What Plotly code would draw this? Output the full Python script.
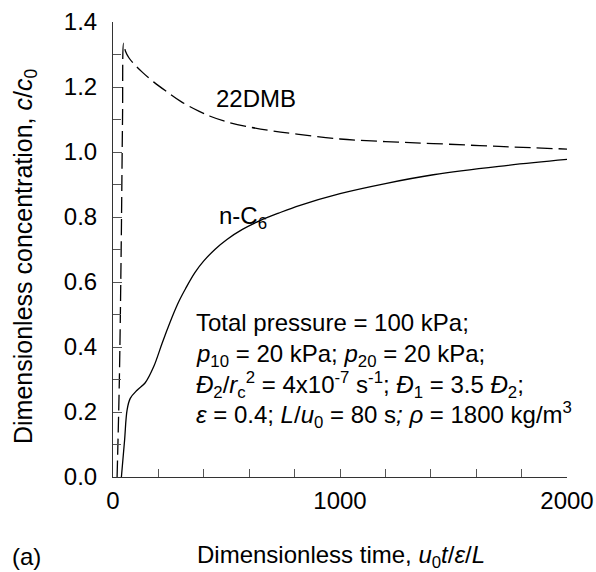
import plotly.graph_objects as go

# ---- data ----
dmb_t = [18, 28, 36, 42, 47, 55, 70, 91, 130, 180, 238, 300, 380, 428, 500, 600, 700, 810, 1000, 1200, 1411, 1700, 2000]
dmb_c = [0.0, 0.30, 0.70, 1.10, 1.335, 1.31, 1.29, 1.272, 1.245, 1.215, 1.185, 1.155, 1.125, 1.110, 1.093, 1.077, 1.065, 1.055, 1.040, 1.032, 1.026, 1.017, 1.009]

nc6_t = [37, 51, 62, 76, 106, 142, 179, 216, 238, 265, 290, 320, 360, 399, 450, 502, 570, 648, 730, 824, 1000, 1200, 1411, 1700, 2000]
nc6_c = [0.0, 0.113, 0.206, 0.242, 0.267, 0.290, 0.339, 0.411, 0.452, 0.500, 0.540, 0.580, 0.628, 0.664, 0.701, 0.731, 0.762, 0.789, 0.812, 0.836, 0.872, 0.903, 0.930, 0.956, 0.977]

x_tick_vals = [0, 1000, 2000]
x_tick_text = ["0", "1000", "2000"]
y_tick_vals = [0.0, 0.2, 0.4, 0.6, 0.8, 1.0, 1.2, 1.4]
y_tick_text = ["0.0", "0.2", "0.4", "0.6", "0.8", "1.0", "1.2", "1.4"]

param_lines = [
    "Total pressure = 100 kPa;",
    "<i>p</i><sub>10</sub> = 20 kPa; <i>p</i><sub>20</sub> = 20 kPa;",
    "<i>Đ</i><sub>2</sub>/<i>r</i><sub>c</sub><sup>2</sup> = 4x10<sup>-7</sup> s<sup>-1</sup>; <i>Đ</i><sub>1</sub> = 3.5 <i>Đ</i><sub>2</sub>;",
    "<i>ε</i> = 0.4; <i>L</i>/<i>u</i><sub>0</sub> = 80 s<i>;</i> <i>ρ</i> = 1800 kg/m<sup>3</sup>",
]
param_y = [0.474, 0.374, 0.283, 0.192]

FONT = "Liberation Sans, Arial, sans-serif"
TXT = 24

fig = go.Figure()
fig.add_trace(go.Scatter(x=dmb_t, y=dmb_c, mode="lines", line=dict(color="black", width=1.3, dash="16px,6px"),
                         line_shape="spline", showlegend=False))
fig.add_trace(go.Scatter(x=nc6_t, y=nc6_c, mode="lines", line=dict(color="black", width=1.3),
                         line_shape="spline", showlegend=False))

W, H = 596, 572
ML, MR, MT, MB = 113, 29, 22, 95
PW = W - ML - MR
PH = H - MT - MB
X0, Y0 = ML, H - MB  # pixel of plot-area bottom-left

ann = []
ann.append(dict(x=632, y=1.165, text="22DMB", showarrow=False, xanchor="center", yanchor="middle",
                font=dict(size=TXT, color="black", family=FONT)))
ann.append(dict(x=460, y=0.80, text="n-C<sub>6</sub>", showarrow=False, xanchor="left", yanchor="middle",
                font=dict(size=TXT, color="black", family=FONT)))
for t, yy in zip(param_lines, param_y):
    ann.append(dict(x=358, y=yy, text=t, showarrow=False, xanchor="left", yanchor="middle",
                    font=dict(size=TXT, color="black", family=FONT)))
ann.append(dict(xref="paper", yref="paper", x=(341 - X0) / PW, y=(Y0 - 556) / PH,
                text="Dimensionless time, <i>u</i><sub>0</sub><i>t</i>/<i>ε</i>/<i>L</i>",
                showarrow=False, xanchor="center", yanchor="middle",
                font=dict(size=TXT, color="black", family=FONT)))
ann.append(dict(xref="paper", yref="paper", x=(25 - X0) / PW, y=(Y0 - 257) / PH,
                text="Dimensionless concentration, <i>c</i>/<i>c</i><sub>0</sub>", textangle=-90,
                showarrow=False, xanchor="center", yanchor="middle",
                font=dict(size=25, color="black", family=FONT)))
ann.append(dict(xref="paper", yref="paper", x=(26 - X0) / PW, y=(Y0 - 556) / PH,
                text="(a)", showarrow=False, xanchor="center", yanchor="middle",
                font=dict(size=TXT, color="black", family=FONT)))

fig.update_layout(
    width=W, height=H,
    margin=dict(l=ML, r=MR, t=MT, b=MB, autoexpand=False),
    plot_bgcolor="white", paper_bgcolor="white",
    font=dict(family=FONT, size=TXT, color="black"),
    annotations=ann,
    xaxis=dict(range=[0, 2000], showgrid=False, zeroline=False, showline=True, linecolor="#333", linewidth=1,
               tickmode="array", tickvals=x_tick_vals, ticktext=x_tick_text, ticks="inside", ticklen=8,
               tickcolor="#555", tickfont=dict(size=24), ticklabelstandoff=2, automargin=False,
               minor=dict(dtick=200, ticks="inside", ticklen=8, tickcolor="#555")),
    yaxis=dict(range=[0, 1.4], showgrid=False, zeroline=False, showline=True, linecolor="#333", linewidth=1,
               tickmode="array", tickvals=y_tick_vals, ticktext=y_tick_text, ticks="inside", ticklen=9,
               tickcolor="#555", tickfont=dict(size=24), ticklabelstandoff=10, automargin=False,
               minor=dict(dtick=0.1, ticks="inside", ticklen=8, tickcolor="#555")),
)

fig.write_html("out.html", config={"displayModeBar": False},
               post_script="document.body.style.margin='0';document.body.style.overflow='hidden';")
